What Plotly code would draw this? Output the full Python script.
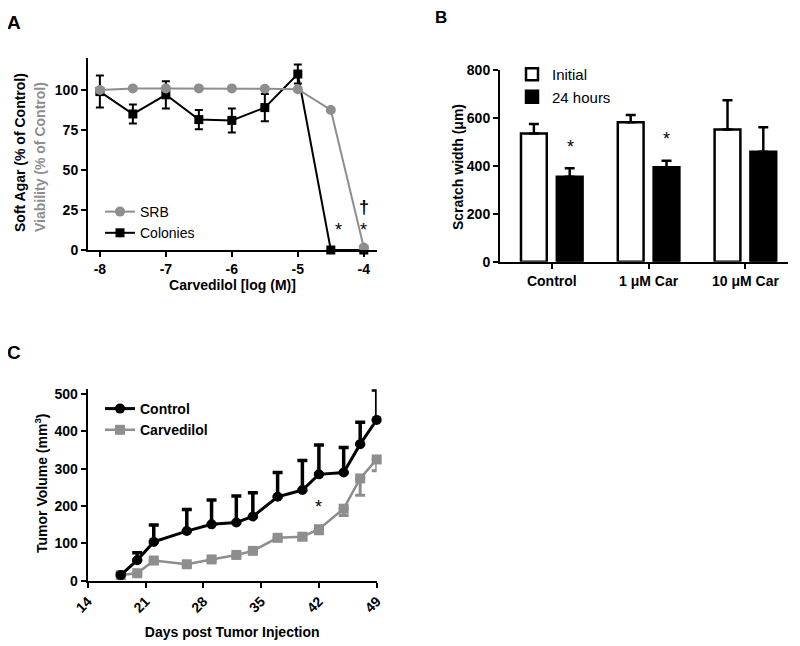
import plotly.graph_objects as go

# ---------------- Panel A data ----------------
conc_log = [-8, -7.5, -7, -6.5, -6, -5.5, -5, -4.5, -4]
srb_viability = [100, 101, 101, 101, 101, 100.8, 100.5, 87.5, 1.5]
colonies = [99, 85, 97, 81.5, 81, 89, 110, 0, 0]
colonies_err = [10, 6, 8.5, 6, 7.5, 8.5, 6, 0, 0]
a_xticks = [-8, -7, -6, -5, -4]
a_xticktext = ["-8", "-7", "-6", "-5", "-4"]
a_yticks = [0, 25, 50, 75, 100]
a_marks_x = [-4.38, -4.0, -4.0]
a_marks_y = [12.5, 12.5, 27]
a_marks_t = ["*", "*", "†"]

# ---------------- Panel B data ----------------
groups = ["Control", "1 μM Car", "10 μM Car"]
initial = [535, 582, 552]
initial_err = [40, 30, 122]
h24 = [355, 394, 459]
h24_err = [35, 27, 102]
b_yticks = [0, 200, 400, 600, 800]
b_marks_x = [0.19, 1.19]
b_marks_y = [480, 510]

# ---------------- Panel C data ----------------
days = [18, 20, 22, 26, 29, 32, 34, 37, 40, 42, 45, 47, 49]
control_vol = [15, 55, 104, 133, 151, 156, 172, 225, 243, 285, 290, 366, 431]
control_err = [3, 20, 45, 58, 65, 71, 64, 65, 79, 79, 67, 59, 80]
carv_vol = [15, 20, 54, 44, 57, 69, 80, 115, 118, 138, 193, 274, 325]
carv_err = [2, 4, 6, 5, 5, 5, 6, 8, 8, 12, 18, 45, 30]
c_xticks = [14, 21, 28, 35, 42, 49]
c_yticks = [0, 100, 200, 300, 400, 500]
c_marks_x = [42, 49.1]
c_marks_y = [197, 372]

GRAY = "#8e8e8e"
FONT = "Liberation Sans"

fig = go.Figure()

# Panel A traces
fig.add_trace(go.Scatter(
    x=conc_log, y=colonies, name="Colonies", mode="lines+markers",
    line=dict(color="black", width=2),
    marker=dict(symbol="square", size=9, color="black"),
    error_y=dict(type="data", array=colonies_err, color="black", thickness=2, width=4),
    xaxis="x", yaxis="y", legend="legend", legendrank=2, cliponaxis=False))
fig.add_trace(go.Scatter(
    x=conc_log, y=srb_viability, name="SRB", mode="lines+markers",
    line=dict(color=GRAY, width=2),
    marker=dict(symbol="circle", size=10, color=GRAY),
    xaxis="x", yaxis="y", legend="legend", legendrank=1, cliponaxis=False))

# Panel B traces
fig.add_trace(go.Bar(
    x=groups, y=initial, name="Initial",
    marker=dict(color="white", line=dict(color="black", width=2.5)),
    error_y=dict(type="data", array=initial_err, arrayminus=[0, 0, 0], symmetric=False,
                 color="black", thickness=2.5, width=5),
    xaxis="x2", yaxis="y2", legend="legend2"))
fig.add_trace(go.Bar(
    x=groups, y=h24, name="24 hours",
    marker=dict(color="black", line=dict(color="black", width=2.5)),
    error_y=dict(type="data", array=h24_err, arrayminus=[0, 0, 0], symmetric=False,
                 color="black", thickness=2.5, width=5),
    xaxis="x2", yaxis="y2", legend="legend2"))

# Panel C traces
fig.add_trace(go.Scatter(
    x=days, y=carv_vol, name="Carvedilol", mode="lines+markers",
    line=dict(color=GRAY, width=2.5),
    marker=dict(symbol="square", size=10, color=GRAY),
    error_y=dict(type="data", array=[0] * len(carv_err), arrayminus=carv_err, symmetric=False,
                 color=GRAY, thickness=3, width=5),
    xaxis="x3", yaxis="y3", legend="legend3", legendrank=2, cliponaxis=False))
fig.add_trace(go.Scatter(
    x=days, y=control_vol, name="Control", mode="lines+markers",
    line=dict(color="black", width=3),
    marker=dict(symbol="circle", size=10, color="black"),
    error_y=dict(type="data", array=control_err, arrayminus=[0] * len(control_err), symmetric=False,
                 color="black", thickness=3.5, width=5),
    xaxis="x3", yaxis="y3", legend="legend3", legendrank=1, cliponaxis=False))

# the page body adds an 8 px margin, so the figure is sized to fit the window
OFF = 8
W, H = 800 - OFF, 646 - OFF
def px_x(p):
    return (p - OFF) / W
def px_y(p):
    return 1 - (p - OFF) / H

axis_common = dict(showline=True, linecolor="black", linewidth=2, ticks="outside",
                   ticklen=5, tickwidth=2, tickcolor="black", showgrid=False, zeroline=False,
                   automargin=False,
                   tickfont=dict(family=FONT, size=14, color="black", weight="bold"))
title_font = dict(family=FONT, size=14, color="black", weight="bold")

fig.update_layout(
    width=W, height=H, margin=dict(l=0, r=0, t=0, b=0, autoexpand=False),
    paper_bgcolor="white", plot_bgcolor="white",
    barmode="group", bargap=0.26, bargroupgap=0.28,
    xaxis=dict(domain=[px_x(88), px_x(377)], range=[-8.18, -3.8], anchor="y",
               tickmode="array", tickvals=a_xticks, ticktext=a_xticktext,
               title=dict(text="Carvedilol [log (M)]", font=title_font, standoff=2), **axis_common),
    yaxis=dict(domain=[px_y(250), px_y(58)], range=[0, 120], anchor="x",
               tickmode="array", tickvals=a_yticks, **axis_common),
    xaxis2=dict(domain=[px_x(500), px_x(788)], range=[-0.535, 2.44], anchor="y2",
                type="category", **axis_common),
    yaxis2=dict(domain=[px_y(261.7), px_y(70)], range=[0, 800], anchor="x2",
                tickmode="array", tickvals=b_yticks, **axis_common),
    xaxis3=dict(domain=[px_x(87.7), px_x(376.7)], range=[14, 49], anchor="y3",
                tickmode="array", tickvals=c_xticks, tickangle=-45,
                title=dict(text="Days post Tumor Injection", font=title_font, standoff=13), **axis_common),
    yaxis3=dict(domain=[px_y(580.7), px_y(389.3)], range=[0, 513], anchor="x3",
                tickmode="array", tickvals=c_yticks, **axis_common),
    legend=dict(x=px_x(100), y=px_y(196), xanchor="left", yanchor="top",
                bgcolor="rgba(0,0,0,0)", font=dict(family=FONT, size=14, color="black"),
                itemwidth=30, tracegroupgap=0),
    legend2=dict(x=px_x(512), y=px_y(58), xanchor="left", yanchor="top",
                 bgcolor="rgba(0,0,0,0)", font=dict(family=FONT, size=15, color="black"),
                 itemwidth=30),
    legend3=dict(x=px_x(100), y=px_y(393), xanchor="left", yanchor="top",
                 bgcolor="rgba(0,0,0,0)", font=dict(family=FONT, size=14, color="black", weight="bold"),
                 itemwidth=30),
)

annotations = []
# Panel letters
for txt, x, y, s in [("A", 14, 23, 19), ("B", 441, 17, 17), ("C", 14, 352, 19)]:
    annotations.append(dict(text=txt, x=px_x(x), y=px_y(y), xref="paper", yref="paper",
                            showarrow=False, font=dict(family=FONT, size=s, color="black", weight="bold"),
                            xanchor="center", yanchor="middle"))
# Y titles
annotations.append(dict(text="Soft Agar (% of Control)", x=px_x(20), y=px_y(153), xref="paper", yref="paper",
                        textangle=-90, showarrow=False, font=title_font, xanchor="center", yanchor="middle"))
annotations.append(dict(text="Viability (% of Control)", x=px_x(40), y=px_y(157), xref="paper", yref="paper",
                        textangle=-90, showarrow=False, font=dict(family=FONT, size=14, color=GRAY, weight="bold"),
                        xanchor="center", yanchor="middle"))
annotations.append(dict(text="Scratch width (μm)", x=px_x(458), y=px_y(167), xref="paper", yref="paper",
                        textangle=-90, showarrow=False, font=title_font, xanchor="center", yanchor="middle"))
annotations.append(dict(text="Tumor Volume (mm<sup>3</sup>)", x=px_x(41), y=px_y(483), xref="paper", yref="paper",
                        textangle=-90, showarrow=False, font=title_font, xanchor="center", yanchor="middle"))
# Significance marks
for x, y, t in zip(a_marks_x, a_marks_y, a_marks_t):
    annotations.append(dict(text=t, x=x, y=y, xref="x", yref="y", showarrow=False,
                            font=dict(family=FONT, size=18, color="black", weight="bold" if t == "†" else "normal")))
for x, y in zip(b_marks_x, b_marks_y):
    annotations.append(dict(text="*", x=x, y=y, xref="x2", yref="y2", showarrow=False,
                            font=dict(family=FONT, size=18, color="black")))
for x, y in zip(c_marks_x, c_marks_y):
    annotations.append(dict(text="*", x=x, y=y, xref="x3", yref="y3", showarrow=False,
                            font=dict(family=FONT, size=18, color="black")))
fig.update_layout(annotations=annotations)

fig.write_html("out.html")
